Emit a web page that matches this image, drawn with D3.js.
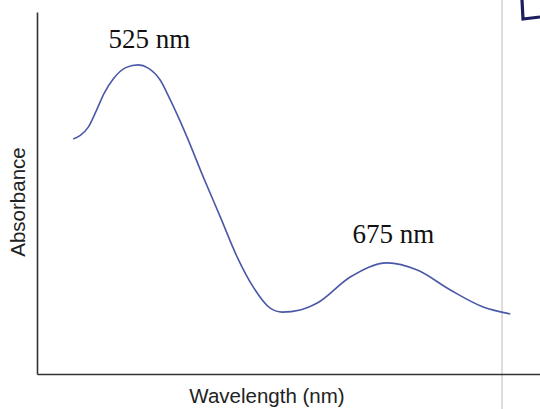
<!DOCTYPE html>
<html>
<head>
<meta charset="utf-8">
<script src="https://cdn.jsdelivr.net/npm/d3@7"></script>
<style>
html,body{margin:0;padding:0;background:#fff;}
svg{display:block;}
</style>
</head>
<body>
<svg id="chart" width="540" height="409"></svg>
<script>
// Data (wavelength in nm, relative absorbance)
const wavelengths = [485.8, 490.1, 494.9, 499.7, 504.5, 509.9, 517.8, 525.0, 531.0, 538.2, 544.3, 553.3, 564.2, 574.4, 584.6, 594.3, 604.5, 611.7, 622.6, 632.8, 652.7, 675.0, 693.1, 713.0, 732.8, 749.1];
const absorbance  = [0.649, 0.659, 0.682, 0.727, 0.776, 0.815, 0.847, 0.854, 0.845, 0.812, 0.757, 0.666, 0.544, 0.434, 0.323, 0.240, 0.182, 0.171, 0.177, 0.196, 0.268, 0.307, 0.287, 0.232, 0.185, 0.166];
const peakLabels = ["525 nm", "675 nm"];
const peakWavelengths = [525, 675];
const peakAbsorbance = [0.854, 0.307];
const xTitle = "Wavelength (nm)";
const yTitle = "Absorbance";

const svg = d3.select("#chart");
const x = d3.scaleLinear().domain([464, 767]).range([37, 540]);
const y = d3.scaleLinear().domain([0, 1]).range([374, 12]);

// scan artefact: faint vertical line
svg.append("line").attr("x1", 502).attr("x2", 502).attr("y1", 0).attr("y2", 409)
  .attr("stroke", "#e2dcd8").attr("stroke-width", 2);

// axes (no ticks)
const xAxis = d3.axisBottom(x).tickValues([]).tickSizeOuter(0);
const yAxis = d3.axisLeft(y).tickValues([]).tickSizeOuter(0);
svg.append("g").attr("transform", "translate(0,374)").call(xAxis)
  .select(".domain").attr("stroke", "#333").attr("stroke-width", 1.6);
svg.append("g").attr("transform", "translate(37,0)").call(yAxis)
  .select(".domain").attr("stroke", "#333").attr("stroke-width", 1.6);

// curve
const pts = wavelengths.map((w, i) => [w, absorbance[i]]);
svg.append("path").datum(pts)
  .attr("fill", "none").attr("stroke", "#4a58a8").attr("stroke-width", 1.6)
  .attr("d", d3.line().x(d => x(d[0])).y(d => y(d[1])).curve(d3.curveMonotoneX));

// peak labels
svg.selectAll("text.peak").data(peakLabels).enter().append("text")
  .attr("class", "peak")
  .attr("x", (d, i) => x(peakWavelengths[i]) + (i === 0 ? 11 : 6))
  .attr("y", (d, i) => y(peakAbsorbance[i]) - (i === 0 ? 17 : 20))
  .attr("text-anchor", "middle")
  .attr("font-family", "'Liberation Serif', 'Times New Roman', serif")
  .attr("font-size", 27).attr("fill", "#111")
  .text(d => d);

// axis titles
svg.append("text").attr("x", 267).attr("y", 403).attr("text-anchor", "middle")
  .attr("font-family", "'Liberation Sans', Arial, sans-serif").attr("font-size", 20.5).attr("fill", "#222")
  .text(xTitle);
svg.append("text").attr("transform", "translate(25,202) rotate(-90)").attr("text-anchor", "middle")
  .attr("font-family", "'Liberation Sans', Arial, sans-serif").attr("font-size", 20.5).attr("fill", "#222")
  .text(yTitle);

// scan artefact: handwritten corner mark
svg.append("path").attr("d", "M522,0 L523,19 L540,17")
  .attr("fill", "none").attr("stroke", "#1c1c5e").attr("stroke-width", 3.2);
</script>
</body>
</html>
